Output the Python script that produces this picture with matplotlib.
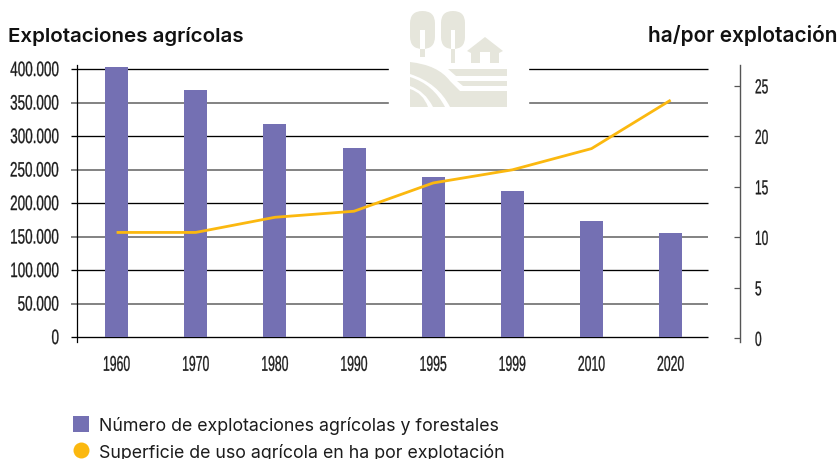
import matplotlib
matplotlib.use("Agg")
import matplotlib.pyplot as plt
from matplotlib.patches import Polygon, Rectangle, FancyBboxPatch, PathPatch
from matplotlib.path import Path
from matplotlib.lines import Line2D
from matplotlib.patheffects import AbstractPathEffect
from matplotlib.transforms import Affine2D

years = ["1960", "1970", "1980", "1990", "1995", "1999", "2010", "2020"]
explotaciones = [403000, 369000, 318000, 282500, 239500, 218500, 173500, 155000]
ha_por_explotacion = [10.5, 10.5, 12.0, 12.6, 15.4, 16.7, 18.8, 23.6]
left_ticks = [0, 50000, 100000, 150000, 200000, 250000, 300000, 350000, 400000]
right_ticks = [0, 5, 10, 15, 20, 25]
left_labels = ["0", "50.000", "100.000", "150.000", "200.000", "250.000", "300.000", "350.000", "400.000"]

NARROW = "Liberation Sans"
TEXT = "Inter"
PURPLE = "#7470b3"
YELLOW = "#fbb80f"
GRAY = "#828282"
LOGO = "#e6e6dc"
INK = "#1c1c1c"
W, H = 840, 460


class TallText(AbstractPathEffect):
    """Stretches a text vertically about its centre, to look like a condensed face."""

    def __init__(self, sy, stroke=0.2):
        super().__init__()
        self.sy, self.stroke = sy, stroke

    def draw_path(self, renderer, gc, tpath, affine, rgbFace=None):
        ext = tpath.get_extents()
        cy = (ext.y0 + ext.y1) / 2
        t = Affine2D().translate(0, -cy).scale(1, self.sy).translate(0, cy) + affine
        g = renderer.new_gc()
        g.copy_properties(gc)
        g.set_linewidth(self.stroke)
        g.set_foreground(rgbFace)
        renderer.draw_path(g, tpath, t, rgbFace)
        g.restore()


fig = plt.figure(figsize=(8.4, 4.6), dpi=100, facecolor="white")
L, R, T, B = 76.5, 740, 66, 343
ax = fig.add_axes([L / W, 1 - B / H, (R - L) / W, (B - T) / H])
ax.set_facecolor("none")
xs = list(range(len(years)))
ax.set_xlim((L - 116.6) / 79.15, (R - 116.6) / 79.15)
ax.set_ylim(-7460, 405970)

trans = ax.get_yaxis_transform()
x0, x1 = (71 - L) / (R - L), (708 - L) / (R - L)
for i, v in enumerate(left_ticks):
    even = i % 2 == 0
    ax.plot([x0, x1], [v, v], transform=trans, clip_on=False, zorder=1,
            color="black" if even else GRAY, lw=0.95 if even else 1.4, solid_capstyle="butt")
ax.bar(xs, explotaciones, width=0.29, color=PURPLE, zorder=2)

ax.set_yticks(left_ticks, left_labels, fontfamily=NARROW, fontsize=9.7, color=INK)
ax.tick_params(axis="y", length=0, pad=12.6)
ax.set_xticks(xs, years, fontfamily=NARROW, fontsize=8.8, color=INK)
ax.tick_params(axis="x", length=0, pad=12)
for lab in ax.get_yticklabels():
    lab.set_path_effects([TallText(1.55)])
for lab in ax.get_xticklabels():
    lab.set_path_effects([TallText(1.75)])
for s in ("top", "right", "bottom"):
    ax.spines[s].set_visible(False)
ax.spines["left"].set_linewidth(0.9)

ax2 = ax.twinx()
ax2.set_ylim(-0.35, 27.08)
ax2.plot(xs, ha_por_explotacion, color=YELLOW, lw=2.0, zorder=5, solid_capstyle="butt")
ax2.set_yticks(right_ticks, [str(t) for t in right_ticks], fontfamily=NARROW, fontsize=8.6, color=INK)
ax2.tick_params(axis="y", direction="in", length=4.2, width=0.9, color="#555555", pad=10.8)
for lab in ax2.get_yticklabels():
    lab.set_path_effects([TallText(1.7)])
for s in ("top", "left", "bottom"):
    ax2.spines[s].set_visible(False)
ax2.spines["right"].set_linewidth(1.0)
ax2.spines["right"].set_color("#555555")

# overlay in pixel coordinates: logo
ov = fig.add_axes([0, 0, 1, 1], facecolor="none")
ov.set_xlim(0, W)
ov.set_ylim(H, 0)
ov.axis("off")
ov.add_patch(Rectangle((389, 0), 139, 115, color="white", zorder=1))
for xl, xr, trunk in ((410, 435, 58), (441, 465, 64)):
    r = (xr - xl) / 2 - 0.01
    ov.add_patch(FancyBboxPatch((xl + r, 12 + r), 0.02, 38 - 2 * r,
                                boxstyle=f"round,pad={r},rounding_size={r}",
                                fc=LOGO, ec="none", zorder=2))
    c = (xl + xr) / 2
    ov.add_patch(Rectangle((c - 2.4, 31), 4.8, 19, fc="white", ec="none", zorder=3))
    ov.add_patch(Rectangle((c - 2.4, 50), 4.8, trunk - 50, fc=LOGO, ec="none", zorder=3))
ov.add_patch(Polygon([[467, 52], [485, 38], [503, 52], [499, 54], [499, 64], [490, 64], [490, 53],
                      [480, 53], [480, 64], [471, 64], [471, 54]], fc=LOGO, ec="none", zorder=2))
ov.add_patch(Polygon([[448, 70], [507, 70], [507, 77], [456, 77]], fc=LOGO, ec="none", zorder=2))
ov.add_patch(Polygon([[457, 82], [507, 82], [507, 87], [463, 87]], fc=LOGO, ec="none", zorder=2))
verts = [(410, 63), (438, 66), (450, 82), (460, 92), (470, 92), (507, 92), (507, 108), (450, 108),
         (438, 84), (410, 75), (410, 63)]
codes = [Path.MOVETO, Path.CURVE3, Path.CURVE3, Path.LINETO, Path.LINETO, Path.LINETO, Path.LINETO, Path.LINETO,
         Path.CURVE3, Path.CURVE3, Path.CLOSEPOLY]
ov.add_patch(PathPatch(Path(verts, codes), fc=LOGO, ec="none", zorder=2))
verts = [(410, 78), (433, 85), (445, 108), (433, 108), (425, 92), (410, 87), (410, 78)]
codes = [Path.MOVETO, Path.CURVE3, Path.CURVE3, Path.LINETO, Path.CURVE3, Path.CURVE3, Path.CLOSEPOLY]
ov.add_patch(PathPatch(Path(verts, codes), fc=LOGO, ec="none", zorder=2))
verts = [(410, 90), (423, 94), (428, 108), (410, 108), (410, 90)]
codes = [Path.MOVETO, Path.CURVE3, Path.CURVE3, Path.LINETO, Path.CLOSEPOLY]
ov.add_patch(PathPatch(Path(verts, codes), fc=LOGO, ec="none", zorder=2))

fig.text(8 / W, 1 - 42 / H, "Explotaciones agrícolas", family=TEXT, fontsize=14.8, fontweight="semibold", color="#111111")
fig.text(838 / W, 1 - 42 / H, "ha/por explotación", family=TEXT, fontsize=15, fontweight="semibold", color="#111111", ha="right")

handles = [Line2D([], [], ls="none", marker="s", ms=11.5, mew=0, color=PURPLE),
           Line2D([], [], ls="none", marker="o", ms=11.5, mew=0, color=YELLOW)]
labels = ["Número de explotaciones agrícolas y forestales", "Superficie de uso agrícola en ha por explotación"]
fig.legend(handles, labels, loc="upper left", bbox_to_anchor=(73 / W, 1 - 417 / H), frameon=False,
           prop={"family": TEXT, "size": 12.8}, labelcolor=INK, handletextpad=0.575, labelspacing=0.48,
           borderpad=0, borderaxespad=0, handlelength=0.9)

fig.savefig("out.png", dpi=100)
